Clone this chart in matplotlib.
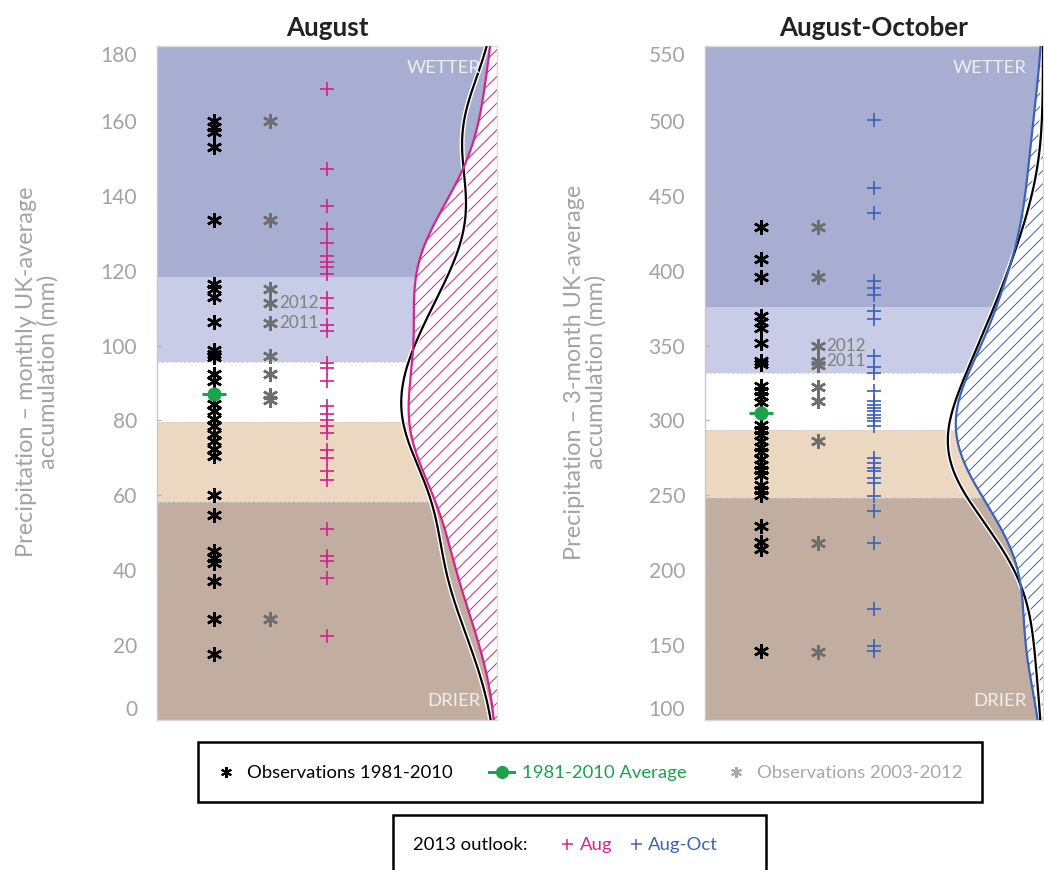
import numpy as np
import matplotlib
matplotlib.use("Agg")
import matplotlib.pyplot as plt
from matplotlib.lines import Line2D
from matplotlib.patches import Rectangle
import matplotlib.patheffects as pe

DPI = 80
W, H = 1044, 870


def pt(px):
    """Convert a pixel size into points at the figure dpi."""
    return px * 72.0 / DPI


plt.rcParams["font.family"] = ["Lato", "DejaVu Sans"]
plt.rcParams["hatch.linewidth"] = 0.9

# ---------------------------------------------------------------- data ----
# August: monthly UK-average precipitation (mm)
aug_obs_1981_2010 = [160.0, 158.5, 157.0, 153.0, 133.5, 116.5, 115.0, 113.0,
                     106.3, 98.8, 97.8, 96.9, 92.5, 90.5, 84.5, 82.5, 80.5,
                     78.5, 76.5, 74.5, 72.5, 70.5, 60.0, 54.7, 45.1, 43.3,
                     42.0, 37.1, 27.0, 17.7]
aug_avg_1981_2010 = 87.0
aug_obs_2003_2012 = [160.0, 133.6, 115.0, 111.4, 106.1, 97.3, 92.3, 86.7,
                     85.4, 27.0]
aug_obs_2003_2012_labels = ["", "", "", "2012", "2011", "", "", "", "", ""]
aug_outlook_2013 = [168.4, 147.2, 137.4, 131.0, 127.4, 123.8, 122.2, 121.0,
                    119.0, 112.7, 110.1, 105.6, 103.8, 95.4, 94.0, 90.5,
                    83.8, 81.6, 80.2, 78.5, 76.7, 72.2, 70.0, 66.4, 64.0,
                    50.9, 43.7, 42.4, 38.0, 22.4]
aug_category_bounds = [58.2, 79.6, 95.7, 118.3]

# August-October: 3-month UK-average accumulation (mm)
aso_obs_1981_2010 = [429.0, 408.0, 396.0, 370.0, 366.0, 362.0, 351.5, 339.5,
                     337.5, 323.0, 319.5, 316.0, 312.0, 297.0, 293.5, 290.0,
                     286.0, 282.5, 279.0, 274.0, 270.0, 267.0, 263.5, 257.0,
                     253.5, 250.0, 229.5, 219.0, 214.0, 146.0]
aso_avg_1981_2010 = 305.0
aso_obs_2003_2012 = [429.0, 396.0, 350.0, 339.5, 337.0, 322.0, 313.0, 286.0,
                     218.5, 145.5]
aso_obs_2003_2012_labels = ["", "", "2012", "2011", "", "", "", "", "", ""]
aso_outlook_2013 = [500.5, 455.5, 438.5, 393.0, 388.5, 384.0, 373.0, 367.5,
                    343.0, 336.0, 331.8, 319.5, 312.8, 310.6, 308.4, 306.1,
                    303.9, 301.7, 299.5, 296.1, 275.0, 271.7, 268.4, 266.1,
                    261.7, 258.3, 249.4, 239.4, 218.3, 173.8, 149.3, 145.9]
aso_category_bounds = [248.3, 293.3, 331.8, 375.6]

# ------------------------------------------------------------- styling ----
band_colors = ["#C2AEA1", "#ECD7C0", "#FFFFFF", "#C9CCE6", "#A8AED2"]
obs_color = "black"
recent_color = "#6E6E6E"
avg_color = "#1BA24C"
aug_color = "#D4248C"
aso_color = "#3D62B8"
axis_grey = "#A3A3A3"


def kde(values, grid, bw):
    v = np.asarray(values, float)[:, None]
    z = (grid[None, :] - v) / bw
    return np.exp(-0.5 * z ** 2).sum(axis=0) / (len(v) * bw * np.sqrt(2 * np.pi))


def draw_panel(ax, title, ylim, yticks, bounds, obs, avg, recent, recent_labels,
               outlook, outlook_color, bw, ylabel, label_x):
    ax.set_xlim(0, 6)
    ax.set_ylim(*ylim)

    edges = [ylim[0]] + list(bounds) + [ylim[1]]
    for lo, hi, c in zip(edges[:-1], edges[1:], band_colors):
        ax.axhspan(lo, hi, color=c, lw=0, zorder=0)
    for b in bounds:
        ax.axhline(b, color="#CFCFCF", lw=1.0, ls=(0, (1.5, 2.5)), zorder=1)

    # probability density of the observations and of the outlook
    yy = np.linspace(ylim[0], ylim[1], 600)
    d_obs = kde(obs, yy, bw)
    d_out = kde(outlook, yy, bw)
    scale = 1.69 / d_obs.max()
    x_obs = 6 - scale * d_obs
    x_out = 6 - scale * d_out
    ax.fill_betweenx(yy, x_out, 6, facecolor="white", edgecolor=outlook_color,
                     hatch="//", lw=0, zorder=2)
    ax.plot(x_obs, yy, color="black", lw=2.0, zorder=3, solid_capstyle="butt",
            path_effects=[pe.Stroke(linewidth=4.5, foreground="white"), pe.Normal()])
    ax.plot(x_out, yy, color=outlook_color, lw=2.0, zorder=4)

    star = (6, 2, 0)
    ax.plot(np.full(len(obs), 1.0), obs, ls="none", marker=star, ms=pt(15),
            mew=pt(2.5), color=obs_color, zorder=5)
    ax.plot(np.full(len(recent), 2.0), recent, ls="none", marker=star, ms=pt(15),
            mew=pt(2.5), color=recent_color, zorder=5)
    ax.plot(np.full(len(outlook), 3.0), outlook, ls="none", marker="+", ms=pt(14),
            mew=pt(1.7), color=outlook_color, zorder=5)
    ax.plot([1.0], [avg], ls="none", marker="_", ms=pt(24), mew=pt(3),
            color=avg_color, zorder=6)
    ax.plot([1.0], [avg], ls="none", marker="o", ms=pt(13), color=avg_color,
            zorder=6)
    for v, lab in zip(recent, recent_labels):
        if lab:
            ax.annotate(lab, (2.0, v), xytext=(pt(9), 0), textcoords="offset points",
                        color="#808080", fontsize=pt(17), va="center", ha="left",
                        zorder=6)

    ax.text(0.953, 0.967, "WETTER", transform=ax.transAxes, ha="right", va="center",
            color="#EFEFF6", fontsize=pt(18.5))
    ax.text(0.953, 0.028, "DRIER", transform=ax.transAxes, ha="right", va="center",
            color="#F4EEEA", fontsize=pt(18.5))

    ax.set_xticks([])
    ax.set_yticks(yticks)
    ax.tick_params(axis="y", direction="in", length=4, width=1, color="#B0B0B0",
                   labelcolor=axis_grey, labelsize=pt(21), pad=pt(20))
    ticks = ax.yaxis.get_major_ticks()
    ticks[0].label1.set_va("bottom")
    ticks[-1].label1.set_va("top")
    for side, sp in ax.spines.items():
        sp.set_color("#C8C8C8" if side == "left" else "#DADADA")
        sp.set_linewidth(1.2)

    ax.set_title(title, fontweight="bold", fontsize=pt(26), pad=pt(10), color="#222222")
    ax.set_ylabel(ylabel, color=axis_grey, fontsize=pt(23.5), linespacing=1.0)
    ax.yaxis.set_label_coords(label_x, 0.516)


fig = plt.figure(figsize=(W / DPI, H / DPI), dpi=DPI)
ax1 = fig.add_axes([157 / W, 1 - 720 / H, 340 / W, 674 / H])
ax2 = fig.add_axes([705 / W, 1 - 720 / H, 338 / W, 674 / H])

draw_panel(ax1, "August", (0, 180), np.arange(0, 181, 20), aug_category_bounds,
           aug_obs_1981_2010, aug_avg_1981_2010, aug_obs_2003_2012,
           aug_obs_2003_2012_labels, aug_outlook_2013, aug_color, 15.0,
           "Precipitation \u2013 monthly UK-average\naccumulation (mm)", -0.29)
draw_panel(ax2, "August-October", (100, 550), np.arange(100, 551, 50),
           aso_category_bounds, aso_obs_1981_2010, aso_avg_1981_2010,
           aso_obs_2003_2012, aso_obs_2003_2012_labels, aso_outlook_2013,
           aso_color, 36.0,
           "Precipitation \u2013 3-month UK-average\naccumulation (mm)", -0.29)

# ------------------------------------------------------------- legends ----
fig.add_artist(Rectangle((198 / W, 1 - 802 / H), 784 / W, 60 / H,
                         transform=fig.transFigure, fill=False, ec="black",
                         lw=pt(2.5)))
fig.add_artist(Rectangle((393 / W, 1 - 885 / H), 373 / W, 70 / H,
                         transform=fig.transFigure, fill=False, ec="black",
                         lw=pt(2.5)))

h_obs = Line2D([], [], ls="none", marker=(6, 2, 0), ms=pt(11), mew=pt(2.0),
               color=obs_color)
h_avg = Line2D([], [], color=avg_color, lw=pt(3), marker="o", ms=pt(12))
h_rec = Line2D([], [], ls="none", marker=(6, 2, 0), ms=pt(11), mew=pt(2.0),
               color="#A8A8A8")
leg1 = fig.legend([h_obs, h_avg, h_rec],
                  ["Observations 1981-2010", "1981-2010 Average",
                   "Observations 2003-2012"],
                  loc="center", bbox_to_anchor=(588 / W, 1 - 773 / H), ncol=3,
                  frameon=False, fontsize=pt(18.5), handlelength=1.33,
                  handletextpad=0.45, columnspacing=2.0, borderpad=0)
for txt, c in zip(leg1.get_texts(), ["black", avg_color, "#A8A8A8"]):
    txt.set_color(c)

fig.text(413 / W, 1 - 845 / H, "2013 outlook:", ha="left", va="center",
         fontsize=pt(18.5), color="black")
h_aug = Line2D([], [], ls="none", marker="+", ms=pt(11), mew=pt(1.5), color=aug_color)
h_aso = Line2D([], [], ls="none", marker="+", ms=pt(11), mew=pt(1.5), color=aso_color)
leg2 = fig.legend([h_aug, h_aso], ["Aug", "Aug-Oct"], loc="center left",
                  bbox_to_anchor=(551 / W, 1 - 845 / H), ncol=2, frameon=False,
                  fontsize=pt(18.5), handlelength=0.75, handletextpad=0.3,
                  columnspacing=0.9, borderpad=0)
for txt, c in zip(leg2.get_texts(), [aug_color, aso_color]):
    txt.set_color(c)

fig.savefig("out.png", dpi=DPI, facecolor="white")
